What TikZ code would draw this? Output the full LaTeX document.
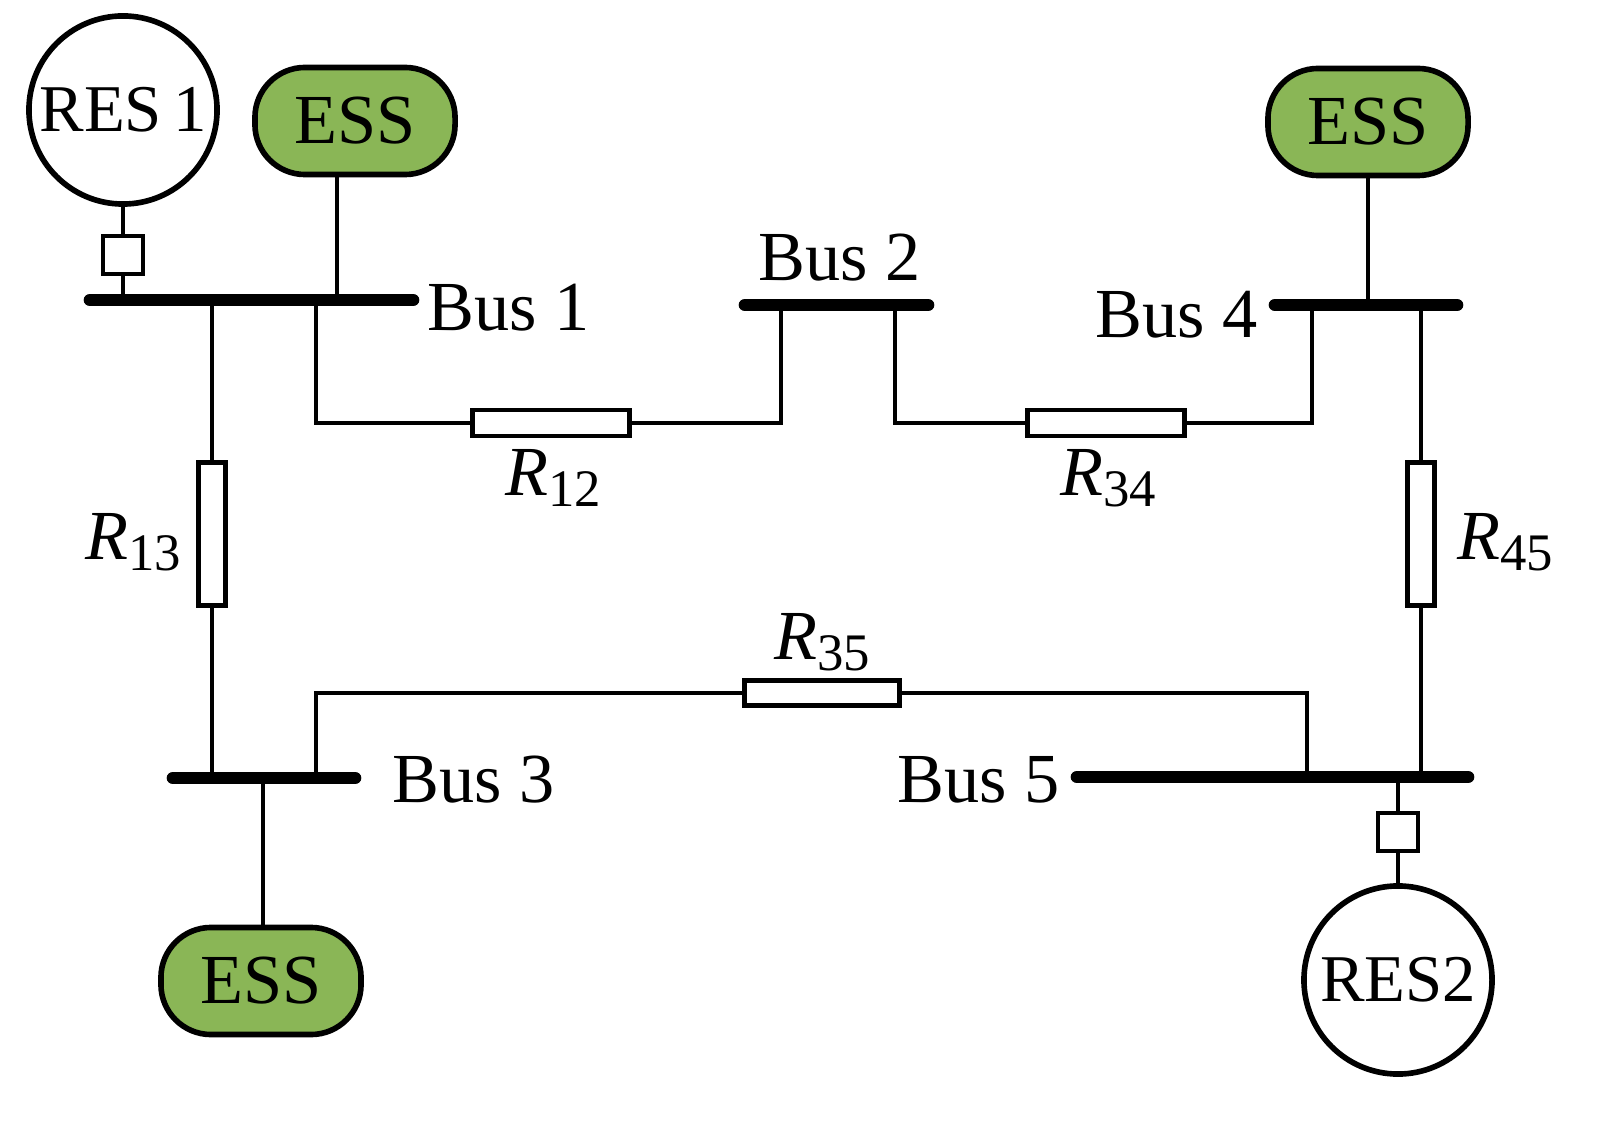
\documentclass[tikz,border=0pt]{standalone}
\usepackage{fontspec}
\setmainfont{Liberation Serif}
\definecolor{essg}{RGB}{138,182,86}
\newcommand{\resl}[1]{\textit{R}\raisebox{-0.35ex}{\fontsize{15}{15}\selectfont #1}}
\begin{document}
\begin{tikzpicture}[x=0.01cm,y=-0.01cm,
 ln/.style={line width=1.4pt},
 bus/.style={line width=3.6pt,line cap=round},
 res/.style={draw,line width=1.4pt,fill=white,minimum width=#1},
 ess/.style={draw,line width=1.6pt,fill=essg,rounded corners=0.5cm,minimum width=2.0cm,minimum height=1.07cm,font=\fontsize{20}{20}\selectfont,inner sep=0pt},
 gen/.style={draw,circle,line width=1.6pt,minimum size=1.88cm,inner sep=0pt,font=\fontsize{19}{19}\selectfont},
 sw/.style={draw,line width=1.4pt,fill=white,minimum width=0.4cm,minimum height=0.38cm,inner sep=0pt},
 lbl/.style={font=\fontsize{20}{20}\selectfont,inner sep=0pt},
 rl/.style={font=\fontsize{20}{20}\selectfont,inner sep=0pt}]
\useasboundingbox (0,0) rectangle (1603,1122);
% buses
\coordinate (b1a) at (90,300); \coordinate (b1b) at (413,300);
\coordinate (b2a) at (745,305); \coordinate (b2b) at (928,305);
\coordinate (b4a) at (1275,305); \coordinate (b4b) at (1457,305);
\coordinate (b3a) at (173,778); \coordinate (b3b) at (355,778);
\coordinate (b5a) at (1077,777); \coordinate (b5b) at (1468,777);
\draw[bus] (b1a)--(b1b); \draw[bus] (b2a)--(b2b); \draw[bus] (b4a)--(b4b);
\draw[bus] (b3a)--(b3b); \draw[bus] (b5a)--(b5b);
\node[lbl,anchor=west] (l1) at (427,308) {Bus 1};
\node[lbl] (l2) at (840,258) {Bus 2};
\node[lbl,anchor=east] (l4) at (1258,315) {Bus 4};
\node[lbl,anchor=west] (l3) at (392,780) {Bus 3};
\node[lbl,anchor=east] (l5) at (1060,780) {Bus 5};
% sources
\node[gen] (g1) at (123,110) {RES\,1};
\node[sw] (s1) at (123,255) {};
\draw[ln] (g1)--(s1); \draw[ln] (s1)--(123,300);
\node[ess] (e1) at (355,121) {ESS};
\draw[ln] (e1.south -| 337,0)--(337,300);
\node[ess] (e4) at (1368,122) {ESS};
\draw[ln] (e4)--(1368,305);
\node[ess] (e3) at (261,981) {ESS};
\draw[ln] (263,778)--(e3.north -| 263,0);
\node[gen] (g2) at (1398,980) {RES2};
\node[sw] (s2) at (1398,832) {};
\draw[ln] (1398,777)--(s2); \draw[ln] (s2)--(g2);
% resistors
\node[res=1.57cm,minimum height=0.26cm,inner sep=0pt] (r12) at (551,423) {};
\node[res=1.57cm,minimum height=0.26cm,inner sep=0pt] (r34) at (1106,423) {};
\node[res=1.55cm,minimum height=0.25cm,inner sep=0pt] (r35) at (822,693) {};
\node[res=0.27cm,minimum height=1.42cm,inner sep=0pt] (r13) at (212,534) {};
\node[res=0.27cm,minimum height=1.42cm,inner sep=0pt] (r45) at (1421,534) {};
\draw[ln] (316,300)--(316,423)--(r12.west); \draw[ln] (r12.east)--(781,423)--(781,305);
\draw[ln] (895,305)--(895,423)--(r34.west); \draw[ln] (r34.east)--(1312,423)--(1312,305);
\draw[ln] (316,778)--(316,693)--(r35.west); \draw[ln] (r35.east)--(1307,693)--(1307,777);
\draw[ln] (212,300)--(r13.north); \draw[ln] (r13.south)--(212,778);
\draw[ln] (1421,305)--(r45.north); \draw[ln] (r45.south)--(1421,777);
\node[rl] (t12) at (553,478) {\resl{12}};
\node[rl] (t34) at (1108,478) {\resl{34}};
\node[rl] (t35) at (822,642) {\resl{35}};
\node[rl] (t13) at (133,542) {\resl{13}};
\node[rl] (t45) at (1505,542) {\resl{45}};
\end{tikzpicture}
\end{document}
